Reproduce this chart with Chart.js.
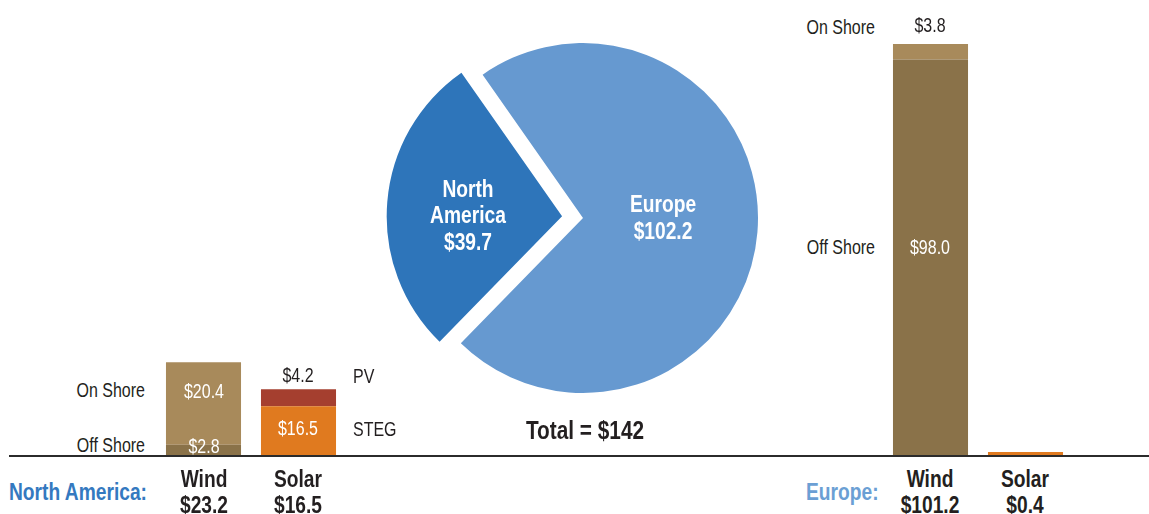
<!doctype html>
<html><head><meta charset="utf-8">
<title>Renewable investment</title>
<script src="https://cdn.jsdelivr.net/npm/chart.js@4"></script>
<style>
  html, body { margin: 0; padding: 0; background: #fff; }
  body { width: 1149px; height: 514px; position: relative; overflow: hidden;
         font-family: "Liberation Sans", Arial, sans-serif; color: #231f20; }
  canvas { position: absolute; }
  .t { position: absolute; white-space: nowrap; line-height: 1; font-size: 20px; }
  .b { font-weight: bold; font-size: 24px; }
  .big { font-size: 26px; }
  .w { color: #fff; }
  .base { position: absolute; left: 9px; top: 455px; width: 1140px; height: 2px; background: #2b2b2b; z-index: 2; }
</style>
</head><body>
<canvas id="pie" width="400" height="400" style="left:383px;top:18px"></canvas>
<canvas id="naBars" width="190" height="456" style="left:156px;top:0"></canvas>
<canvas id="euBars" width="190" height="456" style="left:883px;top:0"></canvas>
<div class="base"></div>
<div id="labels"></div>
<script>
// pie: regional totals
const regions = ['Europe', 'North America'];
const regionTotals = [102.2, 39.7];
const regionColors = ['#6699d0', '#2e75ba'];

// bar categories
const techs = ['Wind', 'Solar'];

// North America
const naOffShore = [2.8, null];
const naOnShore = [20.4, null];
const naSteg = [null, 12.3];
const naPv = [null, 4.2];

// Europe
const euOffShore = [98.0, null];
const euOnShore = [3.8, null];
const euSolar = [null, 0.4];

const yMax = 112.7;
const tan = '#a88a5b', darkTan = '#8a7249', orange = '#e07a1f', rust = '#a53f2f';

new Chart(document.getElementById('pie'), {
  type: 'pie',
  data: {
    labels: regions,
    datasets: [{ data: regionTotals, backgroundColor: regionColors, borderWidth: 0, offset: [0, 84] }]
  },
  options: {
    responsive: false, animation: false, events: [],
    radius: 175, rotation: -35,
    layout: { padding: 0 },
    plugins: { legend: { display: false }, tooltip: { enabled: false } }
  }
});

function barChart(id, datasets) {
  return new Chart(document.getElementById(id), {
    type: 'bar',
    data: { labels: techs, datasets },
    options: {
      responsive: false, animation: false, events: [],
      layout: { padding: 0 },
      datasets: { bar: { categoryPercentage: 1, barPercentage: 0.79, borderWidth: 0 } },
      scales: {
        x: { stacked: true, display: false },
        y: { stacked: true, display: false, min: 0, max: yMax }
      },
      plugins: { legend: { display: false }, tooltip: { enabled: false } }
    }
  });
}

barChart('naBars', [
  { label: 'Off Shore', data: naOffShore, backgroundColor: darkTan },
  { label: 'On Shore', data: naOnShore, backgroundColor: tan },
  { label: 'STEG', data: naSteg, backgroundColor: orange },
  { label: 'PV', data: naPv, backgroundColor: rust }
]);

barChart('euBars', [
  { label: 'Off Shore', data: euOffShore, backgroundColor: darkTan },
  { label: 'On Shore', data: euOnShore, backgroundColor: tan },
  { label: 'Solar', data: euSolar, backgroundColor: orange, minBarLength: 4 }
]);

// text labels: [text, x, y, align, classes, colour]
const texts = [
  ['North', 468, 189, 'c', 'b w'],
  ['America', 468, 215, 'c', 'b w'],
  ['$39.7', 468, 242, 'c', 'b w'],
  ['Europe', 663, 204, 'c', 'b w'],
  ['$102.2', 663, 231, 'c', 'b w'],
  ['Total = $142', 585, 430, 'c', 'b big'],

  ['On Shore', 145, 390, 'r', ''],
  ['Off Shore', 145, 445, 'r', ''],
  ['$20.4', 204, 391, 'c', 'w'],
  ['$2.8', 204, 446, 'c', 'w'],
  ['$4.2', 298, 375, 'c', ''],
  ['PV', 353, 376, 'l', ''],
  ['$16.5', 298, 428, 'c', 'w'],
  ['STEG', 353, 429, 'l', ''],
  ['Wind', 204, 479, 'c', 'b'],
  ['$23.2', 204, 505, 'c', 'b'],
  ['Solar', 298, 479, 'c', 'b'],
  ['$16.5', 298, 505, 'c', 'b'],
  ['North America:', 9, 492, 'l', 'b', '#3479c0'],

  ['On Shore', 875, 27, 'r', ''],
  ['$3.8', 930, 25, 'c', ''],
  ['Off Shore', 875, 247, 'r', ''],
  ['$98.0', 930, 247, 'c', 'w'],
  ['Wind', 930, 479, 'c', 'b'],
  ['$101.2', 930, 505, 'c', 'b'],
  ['Solar', 1025, 479, 'c', 'b'],
  ['$0.4', 1025, 505, 'c', 'b'],
  ['Europe:', 806, 492, 'l', 'b', '#6b9fd4']
];

// condensed look: Liberation Sans squeezed horizontally
const box = document.getElementById('labels');
texts.forEach(([s, x, y, a, cls, col]) => {
  const d = document.createElement('div');
  d.className = 't ' + cls;
  d.textContent = s;
  d.style.left = x + 'px';
  d.style.top = y + 'px';
  const tx = a === 'c' ? '-50%' : a === 'r' ? '-100%' : '0';
  d.style.transformOrigin = (a === 'c' ? 'center' : a === 'r' ? 'right' : 'left') + ' center';
  d.style.transform = `translate(${tx}, -50%) scaleX(0.8)`;
  if (col) d.style.color = col;
  box.appendChild(d);
});
</script>
</body></html>
